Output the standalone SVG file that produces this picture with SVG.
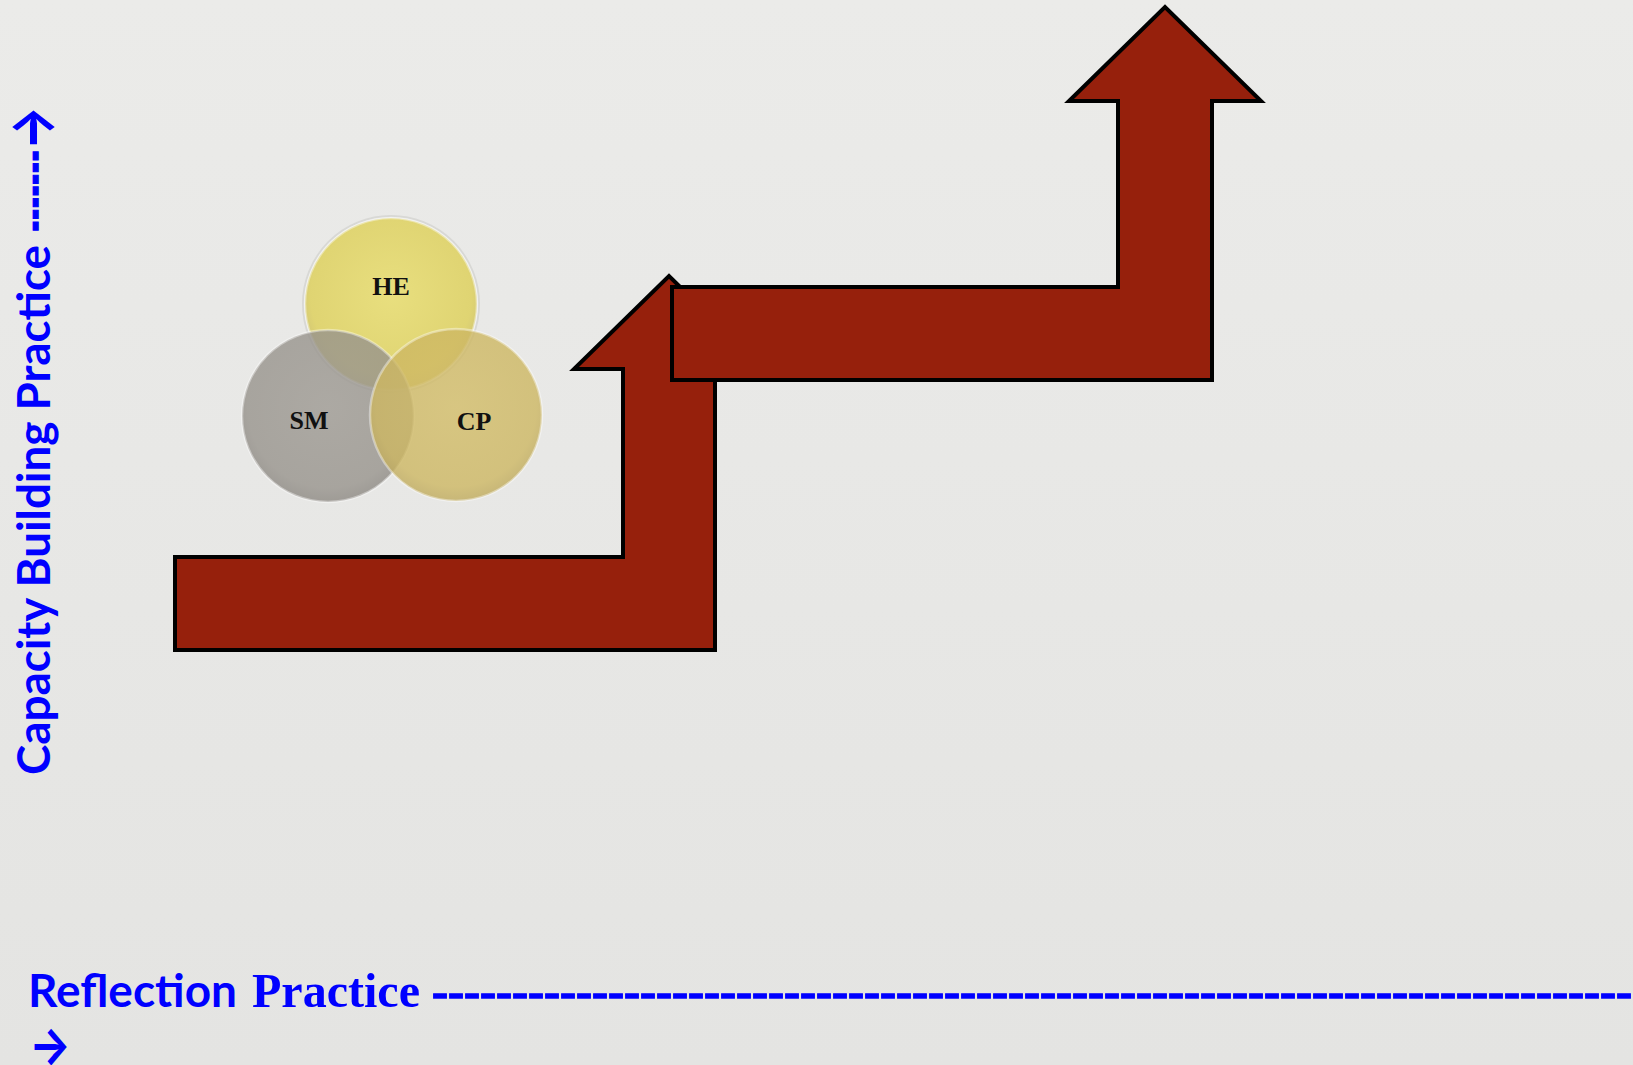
<svg xmlns="http://www.w3.org/2000/svg" width="1633" height="1065" viewBox="0 0 1633 1065">
  <defs>
    <linearGradient id="bg" x1="0" y1="0" x2="0" y2="1">
      <stop offset="0" stop-color="#ebebe9"/>
      <stop offset="1" stop-color="#e4e4e2"/>
    </linearGradient>
    <radialGradient id="gHE" cx="0.5" cy="0.45" r="0.55">
      <stop offset="0" stop-color="#e8dc64"/>
      <stop offset="0.85" stop-color="#ddcf55"/>
      <stop offset="1" stop-color="#cabc58"/>
    </radialGradient>
    <radialGradient id="gSM" cx="0.5" cy="0.45" r="0.55">
      <stop offset="0" stop-color="#9d9992"/>
      <stop offset="0.85" stop-color="#97938c"/>
      <stop offset="1" stop-color="#8c8882"/>
    </radialGradient>
    <radialGradient id="gCP" cx="0.5" cy="0.45" r="0.55">
      <stop offset="0" stop-color="#d3bd68"/>
      <stop offset="0.85" stop-color="#cdb762"/>
      <stop offset="1" stop-color="#bfaa5c"/>
    </radialGradient>
  </defs>
  <style>
    .step { fill: #96200c; stroke: #000; stroke-width: 4; stroke-linejoin: miter; }
    .disc { fill-opacity: 0.8; stroke: #ffffff; stroke-opacity: 0.4; stroke-width: 2.5; }
    .halo { fill: none; stroke: #c8c8c4; stroke-opacity: 0.5; stroke-width: 2; }
    .disc-label { font-family: "Liberation Serif", "Times New Roman", serif; font-weight: bold; font-size: 26px; fill: #111; text-anchor: middle; }
    .axis-sans { font-family: Lato, "Open Sans", "Liberation Sans", sans-serif; font-weight: bold; fill: #0000ff; }
    .axis-serif { font-family: "Liberation Serif", "Times New Roman", serif; font-weight: bold; fill: #0000ff; }
    .dash { stroke: #0000ff; stroke-width: 1.4; }
    .arrow-glyph { font-family: Inter, "DejaVu Sans", sans-serif; font-weight: bold; fill: #0000ff; }
  </style>

  <rect width="1633" height="1065" fill="url(#bg)"/>

  <g id="venn">
    <g id="node-HE">
      <circle class="halo" cx="391" cy="304" r="88"/>
      <circle class="disc" cx="391" cy="304" r="86" fill="url(#gHE)"/>
    </g>
    <g id="node-SM">
      <circle class="disc" cx="328" cy="416" r="86" fill="url(#gSM)"/>
    </g>
    <g id="node-CP">
      <circle class="disc" cx="456" cy="415" r="86" fill="url(#gCP)"/>
    </g>
    <text class="disc-label" x="391" y="295">HE</text>
    <text class="disc-label" x="309" y="429">SM</text>
    <text class="disc-label" x="474" y="430">CP</text>
  </g>

  <g id="step-arrow-1">
    <polygon class="step" points="175,557 623,557 623,369 574,369 669,276 764,369 715,369 715,650 175,650"/>
  </g>
  <g id="step-arrow-2">
    <polygon class="step" points="672,287 1118,287 1118,101 1069,101 1165,7 1261,101 1212,101 1212,380 672,380"/>
  </g>

  <g id="axis-y">
    <text class="axis-sans" font-size="45" transform="translate(50,775) rotate(-90)"><tspan x="0" textLength="530" lengthAdjust="spacingAndGlyphs">Capacity Building Practice</tspan><tspan class="dash" x="543" textLength="82" lengthAdjust="spacingAndGlyphs">-------</tspan><tspan class="arrow-glyph" font-size="60" x="625" dy="3" textLength="44" lengthAdjust="spacingAndGlyphs">→</tspan></text>
  </g>

  <g id="axis-x">
    <text y="1007"><tspan class="axis-sans" font-size="46" x="28" textLength="209" lengthAdjust="spacingAndGlyphs">Reflection</tspan><tspan class="axis-serif" font-size="48" x="252" textLength="168" lengthAdjust="spacingAndGlyphs">Practice</tspan><tspan class="axis-serif dash" font-size="48" x="432" textLength="1200" lengthAdjust="spacingAndGlyphs">---------------------------------------------------------------------------</tspan></text>
    <text class="arrow-glyph" font-size="52" x="29" y="1064" textLength="42" lengthAdjust="spacingAndGlyphs">→</text>
  </g>
</svg>
